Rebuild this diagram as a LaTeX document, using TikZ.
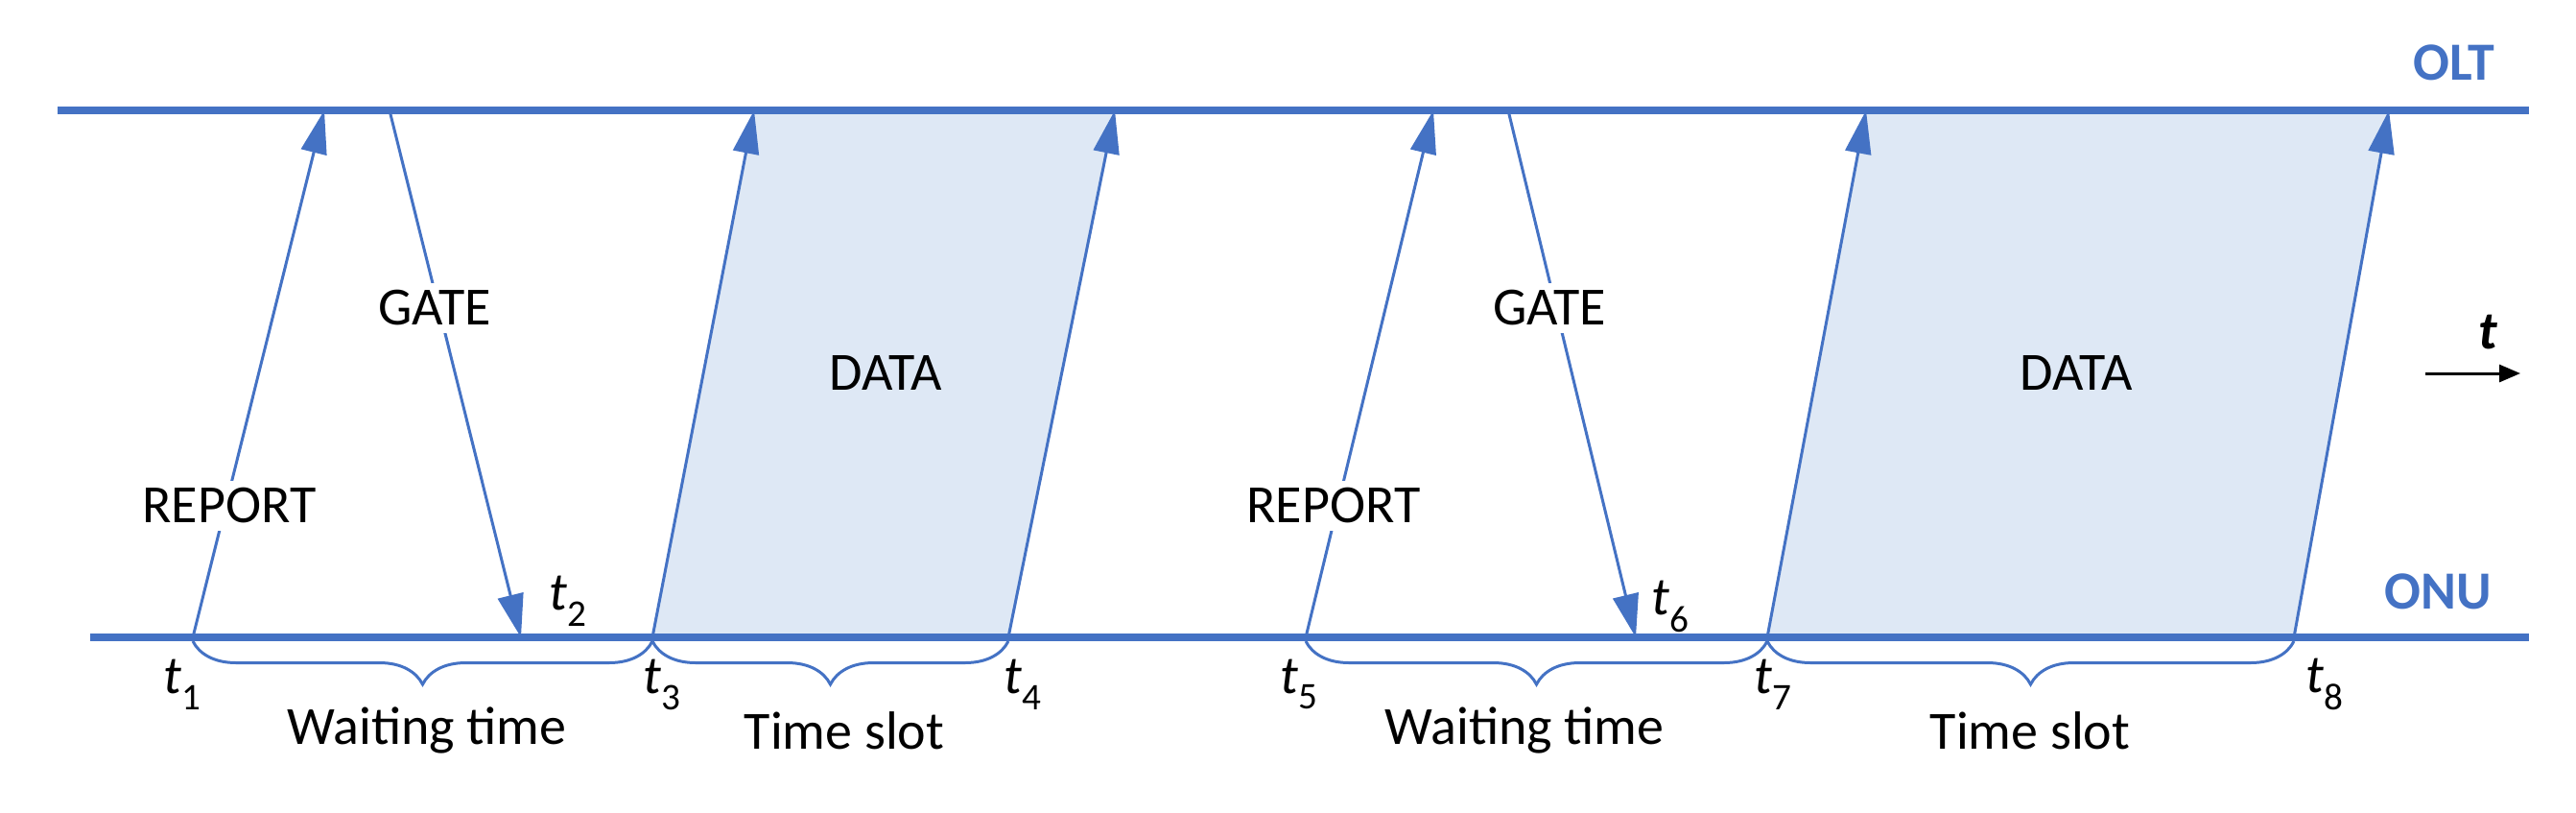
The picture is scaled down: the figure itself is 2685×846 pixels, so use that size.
\documentclass[tikz,border=0pt]{standalone}
\usepackage{fontspec}
\setmainfont{Carlito}
\usetikzlibrary{arrows.meta,decorations.pathreplacing}
\definecolor{lblue}{HTML}{4472C4}
\definecolor{dfill}{HTML}{DEE8F5}
\begin{document}
\begin{tikzpicture}[x=1pt,y=-1pt,
  axis/.style={lblue,line width=8pt},
  msg/.style={lblue,line width=3pt,-{Triangle[length=45pt,width=27pt]}},
  lbl/.style={font=\fontsize{56}{60}\selectfont,inner sep=0pt},
  tl/.style={font=\fontsize{56}{60}\selectfont\itshape,inner sep=0pt},
  side/.style={font=\fontsize{56}{60}\selectfont\bfseries,text=lblue,inner sep=0pt},
  br/.style={lblue,line width=3pt,decorate,decoration={brace,mirror,amplitude=45pt,aspect=0.5}}]
\useasboundingbox (0,0) rectangle (2685,846);
% axes
\coordinate (olt0) at (60,115); \coordinate (olt1) at (2636,115);
\coordinate (onu0) at (94,664); \coordinate (onu1) at (2636,664);
% endpoints
\coordinate (r1a) at (201,664); \coordinate (r1b) at (338,115);
\coordinate (g1a) at (406,115); \coordinate (g1b) at (543,664);
\coordinate (d1a) at (680,664); \coordinate (d1b) at (786,115);
\coordinate (d1c) at (1051,664); \coordinate (d1d) at (1162,115);
\coordinate (r2a) at (1361,664); \coordinate (r2b) at (1494,115);
\coordinate (g2a) at (1572,115); \coordinate (g2b) at (1705,664);
\coordinate (d2a) at (1842,664); \coordinate (d2b) at (1945,115);
\coordinate (d2c) at (2391,664); \coordinate (d2d) at (2490,115);
% data fills
\fill[dfill] (d1a) -- (d1b) -- (d1d) -- (d1c) -- cycle;
\fill[dfill] (d2a) -- (d2b) -- (d2d) -- (d2c) -- cycle;
\draw[axis] (olt0) -- (olt1);
\draw[axis] (onu0) -- (onu1);
% messages
\draw[msg] (r1a) -- (r1b);
\draw[msg] (g1a) -- (g1b);
\draw[msg] (d1a) -- (d1b);
\draw[msg] (d1c) -- (d1d);
\draw[msg] (r2a) -- (r2b);
\draw[msg] (g2a) -- (g2b);
\draw[msg] (d2a) -- (d2b);
\draw[msg] (d2c) -- (d2d);
% labels (white background to break lines)
\node[lbl,fill=white,inner sep=8pt] (gate1) at (453,321) {GATE};
\node[lbl,fill=white,inner sep=8pt] (gate2) at (1615,321) {GATE};
\node[lbl,fill=white,inner sep=8pt] (rep1) at (239,527) {REPORT};
\node[lbl,fill=white,inner sep=8pt] (rep2) at (1390,527) {REPORT};
\node[lbl] (data1) at (923,389) {DATA};
\node[lbl] (data2) at (2164,389) {DATA};
\node[side] (olt) at (2558,65) {OLT};
\node[side] (onu) at (2541,616) {ONU};
% time labels
\node[tl] (t1) at (190,713) {t\textsubscript{\upshape 1}};
\node[tl] (t2) at (592,626) {t\textsubscript{\upshape 2}};
\node[tl] (t3) at (690,713) {t\textsubscript{\upshape 3}};
\node[tl] (t4) at (1066,713) {t\textsubscript{\upshape 4}};
\node[tl] (t5) at (1354,713) {t\textsubscript{\upshape 5}};
\node[tl] (t6) at (1741,632) {t\textsubscript{\upshape 6}};
\node[tl] (t7) at (1848,713) {t\textsubscript{\upshape 7}};
\node[tl] (t8) at (2423,713) {t\textsubscript{\upshape 8}};
% braces
\draw[br] (201,668) -- (680,668);
\draw[br] (680,668) -- (1051,668);
\draw[br] (1361,668) -- (1842,668);
\draw[br] (1842,668) -- (2391,668);
\node[lbl] (wt1) at (445,761) {Waiting time};
\node[lbl] (ts1) at (880,761) {Time slot};
\node[lbl] (wt2) at (1589,761) {Waiting time};
\node[lbl] (ts2) at (2116,761) {Time slot};
% t arrow
\coordinate (ta) at (2528,389); \coordinate (tb) at (2627,389);
\draw[line width=3pt,-{Triangle[length=22pt,width=18pt]}] (ta) -- (tb);
\node[tl,font=\fontsize{56}{60}\selectfont\bfseries\itshape] (tlab) at (2593,346) {t};
\end{tikzpicture}
\end{document}
